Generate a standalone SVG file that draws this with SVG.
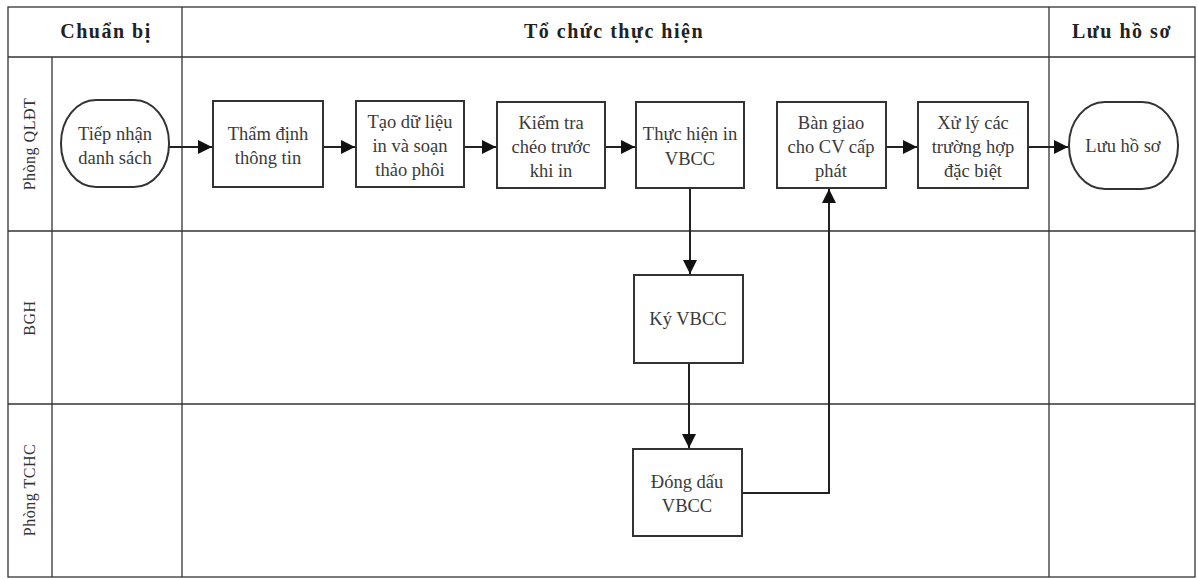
<svg xmlns="http://www.w3.org/2000/svg" width="1198" height="579" viewBox="0 0 1198 579">
<style>
.grid{stroke:#333;stroke-width:1.3;fill:none}
.box{fill:#fff;stroke:#333;stroke-width:2}
.t{font-family:"Liberation Serif","Times New Roman",serif;font-size:18.5px;fill:#3a3a3a;text-anchor:middle}
.h{font-family:"Liberation Serif","Times New Roman",serif;font-size:20px;font-weight:bold;fill:#222;text-anchor:middle;letter-spacing:1.5px}
.lane{font-family:"Liberation Serif","Times New Roman",serif;font-size:16px;fill:#333;text-anchor:middle;letter-spacing:0.5px}
.c{stroke:#222;stroke-width:2;fill:none}
</style>
<defs>
<marker id="ah" viewBox="0 0 10 10" refX="10" refY="5" markerWidth="7" markerHeight="7" markerUnits="strokeWidth" orient="auto">
<path d="M0,0 L10,5 L0,10 z" fill="#111"/>
</marker>
</defs>
<rect width="1198" height="579" fill="#fff"/>
<g id="grid">
<rect class="grid" x="8" y="7" width="1187" height="570"/>
<line class="grid" x1="8" y1="57" x2="1195" y2="57"/>
<line class="grid" x1="8" y1="231" x2="1195" y2="231"/>
<line class="grid" x1="8" y1="404" x2="1195" y2="404"/>
<line class="grid" x1="52" y1="57" x2="52" y2="577"/>
<line class="grid" x1="182" y1="7" x2="182" y2="577"/>
<line class="grid" x1="1049" y1="7" x2="1049" y2="577"/>
<text class="h" x="106" y="38">Chuẩn bị</text>
<text class="h" x="614" y="38">Tổ chức thực hiện</text>
<text class="h" x="1122" y="38">Lưu hồ sơ</text>
<text class="lane" transform="translate(35,144) rotate(-90)">Phòng QLĐT</text>
<text class="lane" transform="translate(35,318) rotate(-90)">BGH</text>
<text class="lane" transform="translate(35,490) rotate(-90)">Phòng TCHC</text>
</g>
<g id="connectors">
<line class="c" x1="169" y1="147" x2="212" y2="147" marker-end="url(#ah)"/>
<line class="c" x1="323" y1="147" x2="355" y2="147" marker-end="url(#ah)"/>
<line class="c" x1="464" y1="147" x2="496" y2="147" marker-end="url(#ah)"/>
<line class="c" x1="605" y1="147" x2="635" y2="147" marker-end="url(#ah)"/>
<line class="c" x1="690" y1="188" x2="690" y2="274" marker-end="url(#ah)"/>
<line class="c" x1="689" y1="363" x2="689" y2="448" marker-end="url(#ah)"/>
<polyline class="c" points="742,493 829,493 829,189" marker-end="url(#ah)"/>
<line class="c" x1="886" y1="147" x2="917" y2="147" marker-end="url(#ah)"/>
<line class="c" x1="1028" y1="147" x2="1068" y2="147" marker-end="url(#ah)"/>
</g>
<g id="n1"><rect class="box" x="61" y="100" width="108" height="87" rx="35" ry="43"/>
<text class="t" x="115" y="140">Tiếp nhận</text><text class="t" x="115" y="164">danh sách</text></g>
<g id="n2"><rect class="box" x="213" y="101" width="110" height="86"/>
<text class="t" x="268" y="140">Thẩm định</text><text class="t" x="268" y="164">thông tin</text></g>
<g id="n3"><rect class="box" x="356" y="101" width="108" height="86"/>
<text class="t" x="410" y="128">Tạo dữ liệu</text><text class="t" x="410" y="152">in và soạn</text><text class="t" x="410" y="176">thảo phôi</text></g>
<g id="n4"><rect class="box" x="497" y="102" width="108" height="86"/>
<text class="t" x="551" y="129">Kiểm tra</text><text class="t" x="551" y="153">chéo trước</text><text class="t" x="551" y="177">khi in</text></g>
<g id="n5"><rect class="box" x="636" y="102" width="108" height="86"/>
<text class="t" x="690" y="140">Thực hiện in</text><text class="t" x="690" y="165">VBCC</text></g>
<g id="n6"><rect class="box" x="777" y="102" width="109" height="86"/>
<text class="t" x="831" y="129">Bàn giao</text><text class="t" x="831" y="153">cho CV cấp</text><text class="t" x="831" y="177">phát</text></g>
<g id="n7"><rect class="box" x="918" y="102" width="110" height="86"/>
<text class="t" x="973" y="129">Xử lý các</text><text class="t" x="973" y="153">trường hợp</text><text class="t" x="973" y="177">đặc biệt</text></g>
<g id="n8"><rect class="box" x="1069" y="102" width="109" height="87" rx="36" ry="43"/>
<text class="t" x="1123" y="152">Lưu hồ sơ</text></g>
<g id="n9"><rect class="box" x="634" y="275" width="109" height="88"/>
<text class="t" x="688" y="325">Ký VBCC</text></g>
<g id="n10"><rect class="box" x="633" y="449" width="109" height="87"/>
<text class="t" x="687" y="488">Đóng dấu</text><text class="t" x="687" y="512">VBCC</text></g>
</svg>
